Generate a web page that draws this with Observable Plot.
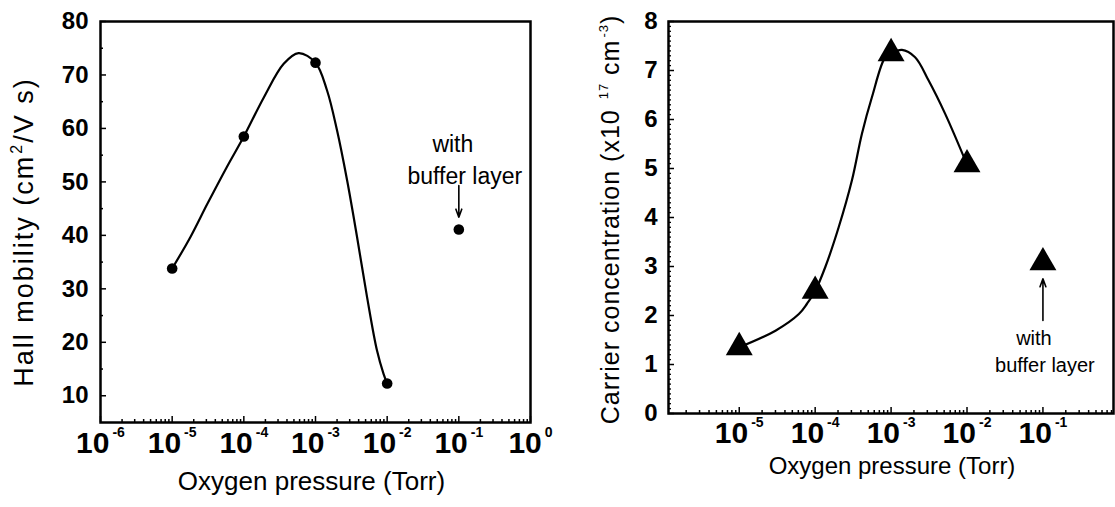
<!DOCTYPE html>
<html><head><meta charset="utf-8">
<script src="https://cdn.jsdelivr.net/npm/d3@7"></script>
<script src="https://cdn.jsdelivr.net/npm/@observablehq/plot@0.6"></script>
<style>
html,body{margin:0;padding:0;background:#fff;}
#wrap{position:relative;width:1115px;height:507px;overflow:hidden;background:#fff;}
#left{position:absolute;left:0;top:0;}
#right{position:absolute;left:555px;top:0;}
svg{font-family:"Liberation Sans",Arial,sans-serif;}
</style></head><body>
<div id="wrap"><div id="left"></div><div id="right"></div></div>
<script>
// ---------- data ----------
const pressure = [1e-5, 1e-4, 1e-3, 1e-2];            // Torr
const hallMobility = [33.8, 58.5, 72.3, 12.3];        // cm^2/V s
const bufferPressure = [0.1];
const bufferMobility = [41.1];
// traced smooth guide curve (left panel)
const mobilityCurveP = [1e-5, 1.8e-5, 3.1e-5, 5.8e-5, 1e-4, 1.9e-4, 3.6e-4, 5.8e-4, 1e-3, 1.45e-3, 2.0e-3, 2.76e-3, 3.8e-3, 5.25e-3, 7.2e-3, 8.9e-3, 1e-2];
const mobilityCurveV = [33.8, 39.7, 45.9, 52.8, 58.5, 65.8, 72.1, 74.1, 72.3, 67.1, 59.6, 50.3, 39.7, 28.4, 18.5, 14.1, 12.3];

const carrierConc = [1.35, 2.5, 7.35, 5.08];          // x10^17 cm^-3
const bufferConc = [3.08];
// traced smooth guide curve (right panel)
const concCurveP = [1e-5, 3.0e-5, 6.1e-5, 7.8e-5, 1e-4, 1.36e-4, 2.04e-4, 3.05e-4, 4.13e-4, 5.6e-4, 8.36e-4, 1e-3, 1.39e-3, 2.07e-3, 3.11e-3, 5.14e-3, 1e-2];
const concCurveV = [1.35, 1.69, 2.03, 2.24, 2.5, 2.99, 3.80, 4.76, 5.71, 6.46, 7.27, 7.35, 7.42, 7.27, 6.80, 6.12, 5.08];

// axes
const leftDecades = [1e-6, 1e-5, 1e-4, 1e-3, 1e-2, 1e-1, 1];
const rightDecades = [1e-5, 1e-4, 1e-3, 1e-2, 1e-1];
const mobilityTicks = [10, 20, 30, 40, 50, 60, 70, 80];
const concTicks = [0, 1, 2, 3, 4, 5, 6, 7, 8];

// annotations
const noteLines = ["with", "buffer layer"];
const mobilityNoteY = [56.9, 51.0];
const mobilityArrowY = [49.3, 43.4];
const concNoteY = [1.52, 0.98];
const concArrowY = [1.90, 2.75];

// titles
const leftYTitle = "Hall mobility (cm^{2}/V s)";
const rightYTitle = "Carrier concentration (x10\u00a0^{17}\u00a0cm^{-3})";
const xTitle = "Oxygen pressure (Torr)";

// ---------- helpers ----------
function minorLog(decades, lo, hi) {
  const out = [];
  for (const d of decades) for (let m = 2; m <= 9; m++) { const v = m * d; if (v >= lo && v <= hi) out.push(v); }
  return out;
}
const expLabel = d => `10^{${Math.round(Math.log10(d))}}`;

function applySup(svg, cls, o) {
  svg.querySelectorAll(`g.${cls} text`).forEach(t => {
    const s = t.textContent;
    while (t.firstChild) t.removeChild(t.firstChild);
    if (o.spacing) t.setAttribute("letter-spacing", o.spacing);
    const re = /\^\{([^}]*)\}/g;
    let last = 0, m, shifted = 0;
    const add = (str, sup) => {
      if (!str) return;
      const ts = document.createElementNS("http://www.w3.org/2000/svg", "tspan");
      ts.textContent = str;
      if (sup) {
        ts.setAttribute("font-size", o.size);
        ts.setAttribute("dy", -o.shift);
        if (o.dx) ts.setAttribute("dx", o.dx);
        shifted = o.shift;
      } else if (shifted) {
        ts.setAttribute("dy", shifted);
        if (o.after) ts.setAttribute("dx", o.after);
        shifted = 0;
      }
      t.appendChild(ts);
    };
    while ((m = re.exec(s))) { add(s.slice(last, m.index), false); add(m[1], true); last = re.lastIndex; }
    add(s.slice(last), false);
  });
}

const FONT = "Liberation Sans, Arial, sans-serif";
const NARROW = "Liberation Sans Narrow, Liberation Sans, Arial, sans-serif";

// ---------- left panel ----------
const L = {lo: 1e-6, hi: 1};
const left = Plot.plot({
  width: 555, height: 507,
  marginLeft: 100, marginRight: 25, marginTop: 21, marginBottom: 85,
  style: {fontFamily: FONT, background: "white", color: "black"},
  x: {type: "log", domain: [L.lo, L.hi]},
  y: {domain: [5, 80]},
  marks: [
    Plot.axisY({ticks: mobilityTicks, tickSize: 0, tickPadding: 12, fontSize: 24, fontWeight: "bold", label: null}),
    Plot.axisY({ticks: mobilityTicks, tickSize: -6, fill: "none", strokeWidth: 1.5, label: null}),
    Plot.axisY({ticks: d3.range(15, 80, 10), tickSize: -3, fill: "none", strokeWidth: 1.5, label: null}),
    Plot.axisX({ticks: leftDecades, tickSize: -6, fill: "none", strokeWidth: 1.5, label: null}),
    Plot.axisX({ticks: minorLog(leftDecades, L.lo, L.hi), tickSize: -3, fill: "none", strokeWidth: 1.5, label: null}),
    Plot.text(leftDecades, {x: d => d, text: expLabel, frameAnchor: "bottom", dy: 30, fontSize: 30, fontWeight: "bold", fontFamily: NARROW, className: "xsupL"}),
    Plot.text([xTitle], {frameAnchor: "bottom", text: d => d, dy: 67.5, dx: -4, fontSize: 26}),
    Plot.text([leftYTitle], {frameAnchor: "left", textAnchor: "middle", text: d => d, rotate: -90, dx: -76, dy: 10, fontSize: 27, className: "ysupL"}),
    Plot.line(mobilityCurveP, {x: mobilityCurveP, y: mobilityCurveV, curve: "catmull-rom", strokeWidth: 2.2, stroke: "black"}),
    Plot.dot(pressure, {x: pressure, y: hallMobility, r: 5.3, fill: "black", stroke: "none"}),
    Plot.dot(bufferPressure, {x: bufferPressure, y: bufferMobility, r: 5.3, fill: "black", stroke: "none"}),
    Plot.text([noteLines[0]], {x: bufferPressure, y: [mobilityNoteY[0]], text: d => d, dx: -6, fontSize: 23}),
    Plot.text([noteLines[1]], {x: bufferPressure, y: [mobilityNoteY[1]], text: d => d, dx: 6, fontSize: 23}),
    Plot.arrow(bufferPressure, {x1: bufferPressure, x2: bufferPressure, y1: [mobilityArrowY[0]], y2: [mobilityArrowY[1]], headLength: 8, headAngle: 40, strokeWidth: 1.6, stroke: "black"}),
    Plot.frame({strokeWidth: 2.5, stroke: "black"})
  ]
});
document.getElementById("left").appendChild(left);
applySup(left, "xsupL", {size: 14, shift: 16, dx: 3});
applySup(left, "ysupL", {size: 16, shift: 11, dx: 1, spacing: 2});

// ---------- right panel ----------
const R = {lo: 1.17e-6, hi: 0.85};
const right = Plot.plot({
  width: 560, height: 507,
  marginLeft: 113, marginRight: 2, marginTop: 21, marginBottom: 94,
  style: {fontFamily: FONT, background: "white", color: "black"},
  x: {type: "log", domain: [R.lo, R.hi]},
  y: {domain: [0, 8]},
  marks: [
    Plot.axisY({ticks: concTicks, tickSize: 0, tickPadding: 11, fontSize: 24, fontWeight: "bold", label: null}),
    Plot.axisY({ticks: concTicks, tickSize: -6, fill: "none", strokeWidth: 1.5, label: null}),
    Plot.axisY({ticks: d3.range(1, 80).filter(i => i % 10).map(i => i / 10), tickSize: -3, fill: "none", strokeWidth: 1.3, label: null}),
    Plot.axisX({ticks: rightDecades, tickSize: -6, fill: "none", strokeWidth: 1.5, label: null}),
    Plot.axisX({ticks: minorLog([1e-6, ...rightDecades], R.lo, R.hi), tickSize: -3, fill: "none", strokeWidth: 1.5, label: null}),
    Plot.text(rightDecades, {x: d => d, text: expLabel, frameAnchor: "bottom", dy: 29.5, fontSize: 30, fontWeight: "bold", fontFamily: NARROW, className: "xsupR"}),
    Plot.text([xTitle], {frameAnchor: "bottom", text: d => d, dy: 60.3, dx: 1, fontSize: 24}),
    Plot.text([rightYTitle], {frameAnchor: "left", textAnchor: "middle", text: d => d, rotate: -90, dx: -57.7, dy: 2, fontSize: 25, className: "ysupR"}),
    Plot.line(concCurveP, {x: concCurveP, y: concCurveV, curve: "catmull-rom", strokeWidth: 2.2, stroke: "black"}),
    Plot.dot(pressure, {x: pressure, y: carrierConc, symbol: "triangle", r: 10, fill: "black", stroke: "none"}),
    Plot.dot(bufferPressure, {x: bufferPressure, y: bufferConc, symbol: "triangle", r: 10, fill: "black", stroke: "none"}),
    Plot.text([noteLines[0]], {x: bufferPressure, y: [concNoteY[0]], text: d => d, dx: -9, fontSize: 20}),
    Plot.text([noteLines[1]], {x: bufferPressure, y: [concNoteY[1]], text: d => d, dx: 2, fontSize: 20}),
    Plot.arrow(bufferPressure, {x1: bufferPressure, x2: bufferPressure, y1: [concArrowY[0]], y2: [concArrowY[1]], headLength: 8, headAngle: 40, strokeWidth: 1.6, stroke: "black"}),
    Plot.frame({strokeWidth: 2.5, stroke: "black"})
  ]
});
document.getElementById("right").appendChild(right);
applySup(right, "xsupR", {size: 14, shift: 16.5, dx: 3});
applySup(right, "ysupR", {size: 13, shift: 11, dx: 2, spacing: 1});
</script>
</body></html>
